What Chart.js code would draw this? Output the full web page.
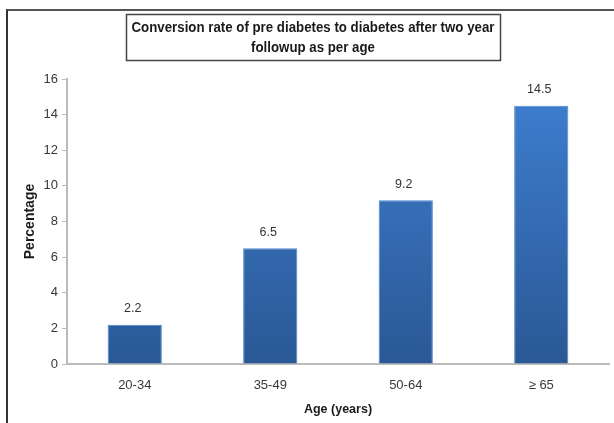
<!DOCTYPE html>
<html>
<head>
<meta charset="utf-8">
<script src="https://cdn.jsdelivr.net/npm/chart.js@4"></script>
<style>
  html, body { margin: 0; padding: 0; background: #fff; }
  #wrap { position: relative; width: 614px; height: 423px; }
  #frame { position: absolute; left: 6px; top: 9px; right: 0; bottom: 0; border-top: 2px solid #555; border-left: 2px solid #333; pointer-events: none; }
  canvas { position: absolute; left: 0; top: 0; }
</style>
</head>
<body>
<div id="wrap">
  <canvas id="chart" width="614" height="423"></canvas>
  <div id="frame"></div>
</div>
<script>
const categories = ['20-34', '35-49', '50-64', '\u2265 65'];
const rates = [2.2, 6.5, 9.2, 14.5];
const titleLines = ['Conversion rate of pre diabetes to diabetes after two year', 'followup as per age'];

const FONT = "'Liberation Sans', Arial, sans-serif";

// title drawn inside a box, squeezed a little to mimic the narrow original font
const titleBox = {
  id: 'titleBox',
  afterDraw(chart) {
    const ctx = chart.ctx;
    ctx.save();
    ctx.strokeStyle = '#444';
    ctx.lineWidth = 1.5;
    ctx.strokeRect(126.5, 14.5, 374, 46);
    ctx.translate(313, 0);
    ctx.scale(0.885, 1);
    ctx.fillStyle = '#1a1a1a';
    ctx.font = 'bold 15px ' + FONT;
    ctx.textAlign = 'center';
    ctx.textBaseline = 'middle';
    ctx.fillText(titleLines[0], 0, 28);
    ctx.fillText(titleLines[1], 0, 48);
    ctx.restore();
  },
};

// value labels above each bar
const barValues = {
  id: 'barValues',
  afterDatasetsDraw(chart) {
    const ctx = chart.ctx;
    const meta = chart.getDatasetMeta(0);
    ctx.save();
    ctx.fillStyle = '#333';
    ctx.font = '12.5px ' + FONT;
    ctx.textAlign = 'center';
    ctx.textBaseline = 'middle';
    meta.data.forEach((bar, i) => {
      ctx.fillText(String(rates[i]), bar.x - 2, bar.y - 16);
    });
    ctx.restore();
  },
};

function barGradient(context) {
  const { chart } = context;
  const area = chart.chartArea;
  if (!area) return '#3470bb';
  const g = chart.ctx.createLinearGradient(0, area.top, 0, area.bottom);
  g.addColorStop(0, '#3f7fd2');
  g.addColorStop(1, '#2a5895');
  return g;
}

new Chart(document.getElementById('chart').getContext('2d'), {
  type: 'bar',
  data: {
    labels: categories,
    datasets: [{
      data: rates,
      backgroundColor: barGradient,
      borderColor: '#4a86d0',
      borderWidth: { top: 1, left: 1, right: 1, bottom: 0 },
      barPercentage: 0.4,
      categoryPercentage: 1,
    }],
  },
  options: {
    responsive: false,
    animation: false,
    layout: { padding: { top: 79, right: 5, left: 0, bottom: 0 } },
    plugins: {
      legend: { display: false },
      tooltip: { enabled: false },
    },
    scales: {
      x: {
        grid: { display: false, drawTicks: false },
        border: { display: true, color: '#bbb', width: 2 },
        ticks: { color: '#383838', padding: 14, font: { family: FONT, size: 13 } },
        title: {
          display: true,
          text: 'Age (years)',
          color: '#1a1a1a',
          font: { family: FONT, size: 12.5, weight: 'bold' },
          padding: { top: 0, bottom: 6 },
        },
        afterFit(scale) { scale.height = 59; },
      },
      y: {
        min: 0,
        max: 16,
        ticks: { stepSize: 2, color: '#383838', padding: 4, font: { family: FONT, size: 13 } },
        grid: { drawOnChartArea: false, drawTicks: true, tickLength: 5, color: '#bbb' },
        border: { display: true, color: '#bbb', width: 2 },
        title: {
          display: true,
          text: 'Percentage',
          color: '#1a1a1a',
          font: { family: FONT, size: 14, weight: 'bold' },
          padding: { top: 22, bottom: 0 },
        },
        afterFit(scale) { scale.width = 67; },
      },
    },
  },
  plugins: [titleBox, barValues],
});
</script>
</body>
</html>
